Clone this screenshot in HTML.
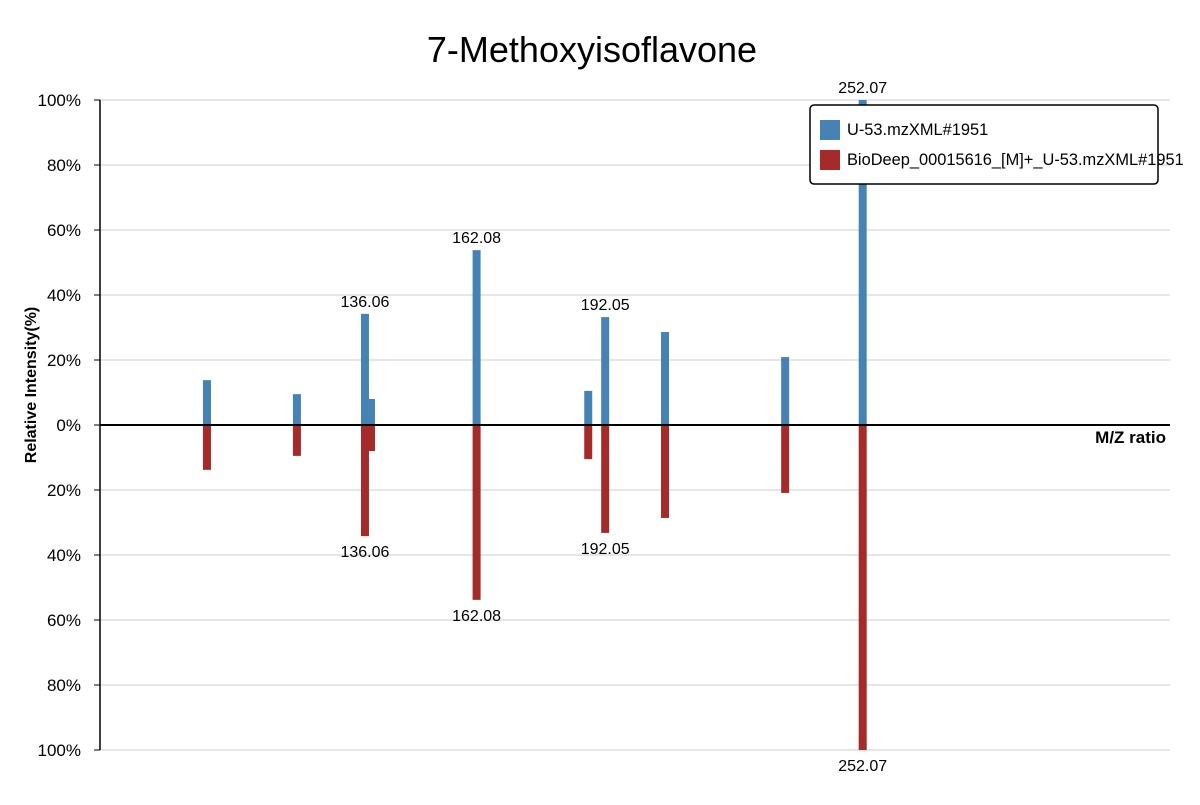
<!DOCTYPE html>
<html><head><meta charset="utf-8"><style>
body{margin:0;background:#fff;}
svg text{font-family:"Liberation Sans",sans-serif;}
</style></head><body>
<svg id="chart" width="1200" height="800" xmlns="http://www.w3.org/2000/svg">
<text x="592" y="62" text-anchor="middle" font-size="36">7-Methoxyisoflavone</text>
<g id="grid"></g>
<g id="bars"></g>
<g id="axes"></g>
<text transform="translate(36,385) rotate(-90)" text-anchor="middle" font-size="16" font-weight="bold">Relative Intensity(%)</text>
<text x="1166" y="443" text-anchor="end" font-size="17" font-weight="bold">M/Z ratio</text>
<g>
<rect x="810" y="105" width="348" height="79" rx="4" fill="#fff" stroke="#000" stroke-width="1.5"/>
<rect x="820" y="120" width="20" height="20" fill="#4682B4"/>
<text x="847" y="135" font-size="16.4">U-53.mzXML#1951</text>
<rect x="820" y="150" width="20" height="20" fill="#A52A2A"/>
<text x="847" y="165" font-size="16.4">BioDeep_00015616_[M]+_U-53.mzXML#1951</text>
</g>
</svg>
<script>
const mz = [99.23, 120.2, 136.06, 137.46, 162.08, 188.1, 192.05, 206.0, 234.0, 252.07];
const sampleIntensity = [13.8, 9.5, 34.2, 8.0, 53.8, 10.5, 33.2, 28.6, 20.9, 100];
const refIntensity = [13.8, 9.5, 34.2, 8.0, 53.8, 10.5, 33.2, 28.6, 20.9, 100];
const labeledMz = [136.06, 162.08, 192.05, 252.07];
const yTicks = [100, 80, 60, 40, 20, 0, -20, -40, -60, -80, -100];

const NS = "http://www.w3.org/2000/svg";
const x0 = 100, x1 = 1170, mzMin = 74.3, mzMax = 323.7;
const xs = v => x0 + (v - mzMin) / (mzMax - mzMin) * (x1 - x0);
const ys = v => 425 - v * 3.25;
function mk(tag, attrs, parent) { const e = document.createElementNS(NS, tag); for (const k in attrs) e.setAttribute(k, attrs[k]); parent.appendChild(e); return e; }
const grid = document.getElementById('grid'), bars = document.getElementById('bars'), axes = document.getElementById('axes');

yTicks.forEach(t => {
  const y = ys(t);
  if (t !== 0) {
    const gl = mk('line', {x1: x0, x2: x1, y1: y, y2: y, stroke: '#ddd', 'stroke-width': 1.5}, grid);
    
    
  }
  const tk = mk('line', {x1: x0 - 6, x2: x0, y1: y, y2: y, stroke: '#000'}, axes);
  
  
  const tl = mk('text', {x: x0 - 19, y: y + 6, 'text-anchor': 'end', 'font-size': 17}, axes);
  tl.textContent = Math.abs(t) + '%';
  
  
});
const ya = mk('line', {x1: x0, x2: x0, y1: ys(100), y2: ys(-100), stroke: '#000', 'stroke-width': 1.5}, axes);



mz.forEach((m, i) => {
  const cx = xs(m);
  const b1 = mk('rect', {x: cx - 4, y: ys(sampleIntensity[i]), width: 8, height: ys(0) - ys(sampleIntensity[i]), fill: '#4682B4'}, bars);
  
  
  const b2 = mk('rect', {x: cx - 4, y: ys(0), width: 8, height: ys(-refIntensity[i]) - ys(0), fill: '#A52A2A'}, bars);
  
  
  if (labeledMz.includes(m)) {
    const t1 = mk('text', {x: cx, y: ys(sampleIntensity[i]) - 7, 'text-anchor': 'middle', 'font-size': 16}, bars);
    t1.textContent = m.toFixed(2);
    
    
    const t2 = mk('text', {x: cx, y: ys(-refIntensity[i]) + 21, 'text-anchor': 'middle', 'font-size': 16}, bars);
    t2.textContent = m.toFixed(2);
    
    
  }
});
const za = mk('line', {x1: x0, x2: x1, y1: ys(0), y2: ys(0), stroke: '#000', 'stroke-width': 2}, axes);


</script>
</body></html>
